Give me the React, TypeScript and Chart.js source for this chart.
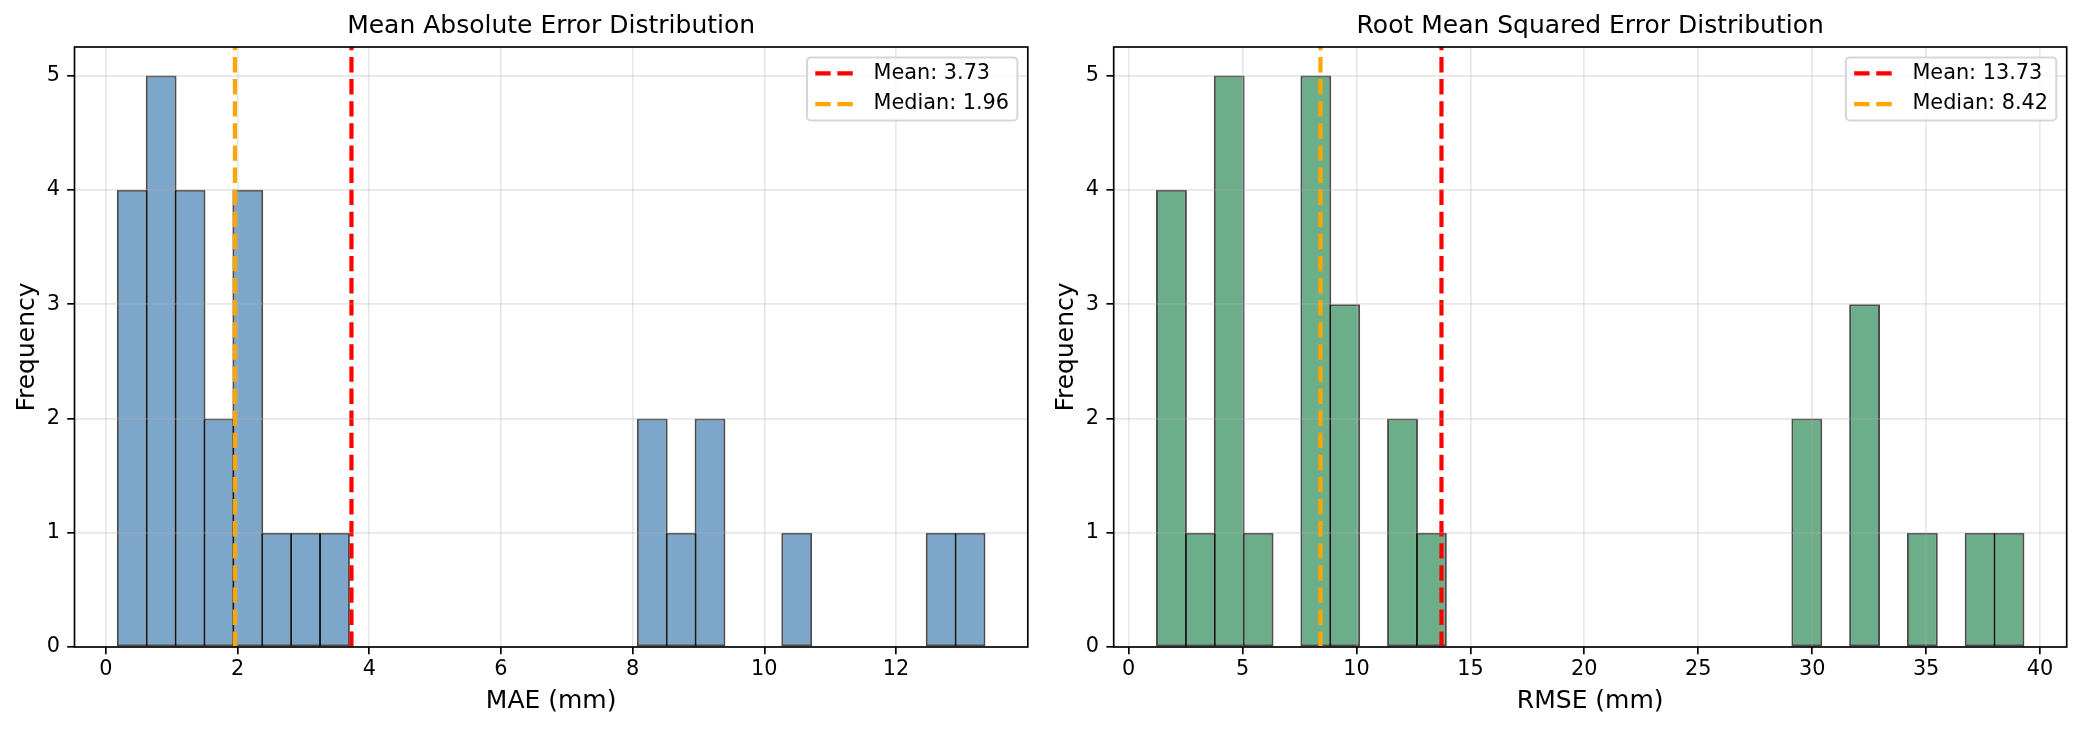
import React, { useEffect, useRef } from "react";
import { Chart, registerables } from "chart.js";

Chart.register(...registerables);
Chart.defaults.font.family = "'DejaVu Sans'";
Chart.defaults.color = "#000";

// ---------- data ----------
const maeBinCenters = [
  0.401, 0.840, 1.279, 1.717, 2.156, 2.595, 3.034, 3.472, 3.911, 4.350,
  4.788, 5.227, 5.666, 6.105, 6.543, 6.982, 7.421, 7.859, 8.298, 8.737,
  9.175, 9.614, 10.053, 10.492, 10.930, 11.369, 11.808, 12.246, 12.685, 13.124,
];
const maeCounts = [
  4, 5, 4, 2, 4, 1, 1, 1, 0, 0,
  0, 0, 0, 0, 0, 0, 0, 0, 2, 1,
  2, 0, 0, 1, 0, 0, 0, 0, 1, 1,
];
const rmseBinCenters = [
  1.880, 3.147, 4.415, 5.682, 6.950, 8.217, 9.485, 10.752, 12.020, 13.287,
  14.555, 15.822, 17.090, 18.357, 19.625, 20.892, 22.160, 23.427, 24.695, 25.962,
  27.230, 28.497, 29.765, 31.032, 32.300, 33.567, 34.835, 36.102, 37.370, 38.637,
];
const rmseCounts = [
  4, 1, 5, 1, 0, 5, 3, 0, 2, 1,
  0, 0, 0, 0, 0, 0, 0, 0, 0, 0,
  0, 0, 2, 0, 3, 0, 1, 0, 1, 1,
];
const maeMean = 3.73;
const maeMedian = 1.96;
const rmseMean = 13.73;
const rmseMedian = 8.42;
const maeXTicks = [0, 2, 4, 6, 8, 10, 12];
const rmseXTicks = [0, 5, 10, 15, 20, 25, 30, 35, 40];
const yTicks = [0, 1, 2, 3, 4, 5];
const maeXRange = [-0.476, 14.001];
const rmseXRange = [-0.655, 41.17];
const yMax = 5.25;

// ---------- styling ----------
const H = 729;
const FS = 20.8;
const LW = 1.67;

type PanelCfg = {
  left: number;
  width: number;
  chartLeft: number;
  chartRight: number;
  yTitlePad: number;
  title: string;
  xLabel: string;
  centers: number[];
  counts: number[];
  mean: number;
  median: number;
  fill: string;
  xTicks: number[];
  xRange: number[];
};

const panels: PanelCfg[] = [
  {
    left: 0,
    width: 1040,
    chartLeft: 74.5,
    chartRight: 1027.8,
    yTitlePad: 12.5,
    title: "Mean Absolute Error Distribution",
    xLabel: "MAE (mm)",
    centers: maeBinCenters,
    counts: maeCounts,
    mean: maeMean,
    median: maeMedian,
    fill: "rgba(70,130,180,0.7)",
    xTicks: maeXTicks,
    xRange: maeXRange,
  },
  {
    left: 1040,
    width: 1041,
    chartLeft: 73.7,
    chartRight: 1026.7,
    yTitlePad: 11.7,
    title: "Root Mean Squared Error Distribution",
    xLabel: "RMSE (mm)",
    centers: rmseBinCenters,
    counts: rmseCounts,
    mean: rmseMean,
    median: rmseMedian,
    fill: "rgba(46,139,87,0.7)",
    xTicks: rmseXTicks,
    xRange: rmseXRange,
  },
];

const frameLegendPlugin = {
  id: "frameLegend",
  afterDraw(chart: any, _args: any, opts: any) {
    const { ctx, chartArea: a } = chart;
    ctx.save();
    // spines
    ctx.strokeStyle = "#000";
    ctx.lineWidth = LW;
    ctx.setLineDash([]);
    ctx.strokeRect(a.left, a.top, a.right - a.left, a.bottom - a.top);
    // legend
    const items: { label: string; color: string }[] = opts.items || [];
    ctx.font = `${FS}px 'DejaVu Sans'`;
    const textW = Math.max(...items.map((i) => ctx.measureText(i.label).width));
    const boxW = 0.4 * FS + 2 * FS + 0.8 * FS + textW + 0.4 * FS;
    const boxH = 63;
    const bx = a.right - 0.5 * FS - boxW;
    const by = a.top + 0.5 * FS;
    const r = 4;
    ctx.beginPath();
    ctx.moveTo(bx + r, by);
    ctx.lineTo(bx + boxW - r, by);
    ctx.arcTo(bx + boxW, by, bx + boxW, by + r, r);
    ctx.lineTo(bx + boxW, by + boxH - r);
    ctx.arcTo(bx + boxW, by + boxH, bx + boxW - r, by + boxH, r);
    ctx.lineTo(bx + r, by + boxH);
    ctx.arcTo(bx, by + boxH, bx, by + boxH - r, r);
    ctx.lineTo(bx, by + r);
    ctx.arcTo(bx, by, bx + r, by, r);
    ctx.closePath();
    ctx.fillStyle = "rgba(255,255,255,0.8)";
    ctx.fill();
    ctx.strokeStyle = "rgba(204,204,204,0.8)";
    ctx.lineWidth = 2;
    ctx.stroke();
    items.forEach((it, i) => {
      const y = by + 16 + i * 30.7;
      ctx.beginPath();
      ctx.setLineDash([15.4, 6.7]);
      ctx.lineCap = "butt";
      ctx.strokeStyle = it.color;
      ctx.lineWidth = 4.2;
      ctx.moveTo(bx + 0.4 * FS, y);
      ctx.lineTo(bx + 2.4 * FS, y);
      ctx.stroke();
      ctx.setLineDash([]);
      ctx.fillStyle = "#000";
      ctx.textBaseline = "middle";
      ctx.textAlign = "left";
      ctx.fillText(it.label, bx + 3.2 * FS, y);
    });
    ctx.restore();
  },
};

function Panel({ cfg }: { cfg: PanelCfg }) {
  const ref = useRef<HTMLCanvasElement | null>(null);
  useEffect(() => {
    if (!ref.current) return;
    const chart = new Chart(ref.current, {
      type: "bar",
      data: {
        datasets: [
          {
            type: "line",
            label: "Median",
            data: [
              { x: cfg.median, y: 0 },
              { x: cfg.median, y: yMax },
            ],
            borderColor: "#FFA500",
            borderWidth: 4.2,
            borderDash: [15.4, 6.7],
            borderCapStyle: "butt",
            pointRadius: 0,
            fill: false,
            order: 1,
          } as any,
          {
            type: "line",
            label: "Mean",
            data: [
              { x: cfg.mean, y: 0 },
              { x: cfg.mean, y: yMax },
            ],
            borderColor: "#FF0000",
            borderWidth: 4.2,
            borderDash: [15.4, 6.7],
            borderCapStyle: "butt",
            pointRadius: 0,
            fill: false,
            order: 2,
          } as any,
          {
            type: "bar",
            label: "hist",
            data: cfg.centers.map((x, i) => ({ x, y: cfg.counts[i] })),
            backgroundColor: cfg.fill,
            borderColor: "rgba(0,0,0,0.7)",
            borderWidth: 2,
            borderSkipped: false,
            inflateAmount: 0,
            barPercentage: 1.069,
            categoryPercentage: 1,
            order: 3,
          } as any,
        ],
      },
      options: {
        animation: false,
        responsive: false,
        layout: { padding: { left: 0, right: cfg.width - cfg.chartRight, top: 0, bottom: 0 } },
        plugins: {
          legend: { display: false },
          tooltip: { enabled: false },
          title: {
            display: true,
            text: cfg.title,
            fullSize: false,
            color: "#000",
            font: { size: 25, weight: "normal", lineHeight: 1.2 },
            padding: { top: 11.2, bottom: 5.8 },
          },
          frameLegend: {
            items: [
              { label: `Mean: ${cfg.mean.toFixed(2)}`, color: "#FF0000" },
              { label: `Median: ${cfg.median.toFixed(2)}`, color: "#FFA500" },
            ],
          },
        } as any,
        scales: {
          x: {
            type: "linear",
            min: cfg.xRange[0],
            max: cfg.xRange[1],
            offset: false,
            afterBuildTicks: (s: any) => {
              s.ticks = cfg.xTicks.map((v) => ({ value: v }));
            },
            afterFit: (s: any) => {
              s.height = H - 647;
            },
            grid: {
              display: true,
              offset: false,
              color: "rgba(176,176,176,0.3)",
              lineWidth: LW,
              drawTicks: true,
              tickLength: 7.3,
              tickColor: "#000",
              tickWidth: LW,
              z: 1,
            },
            border: { display: false },
            ticks: {
              padding: 3.2,
              maxRotation: 0,
              autoSkip: false,
              color: "#000",
              font: { size: FS, lineHeight: 1.2 },
              callback: (v: any) => String(v),
            },
            title: {
              display: true,
              text: cfg.xLabel,
              color: "#000",
              font: { size: 25, lineHeight: 1.2 },
              padding: { top: 0, bottom: 13 },
            },
          },
          y: {
            type: "linear",
            min: 0,
            max: yMax,
            afterBuildTicks: (s: any) => {
              s.ticks = yTicks.map((v) => ({ value: v }));
            },
            afterFit: (s: any) => {
              s.width = cfg.chartLeft;
            },
            grid: {
              display: true,
              color: "rgba(176,176,176,0.3)",
              lineWidth: LW,
              drawTicks: true,
              tickLength: 7.3,
              tickColor: "#000",
              tickWidth: LW,
              z: 1,
            },
            border: { display: false },
            ticks: {
              padding: 7.3,
              autoSkip: false,
              color: "#000",
              font: { size: FS, lineHeight: 1.2 },
              callback: (v: any) => String(v),
            },
            title: {
              display: true,
              text: "Frequency",
              color: "#000",
              font: { size: 25, lineHeight: 1.2 },
              padding: { top: cfg.yTitlePad, bottom: 0 },
            },
          },
        },
      } as any,
      plugins: [frameLegendPlugin as any],
    });
    return () => chart.destroy();
  }, []);
  return (
    <canvas
      ref={ref}
      width={cfg.width}
      height={H}
      style={{ position: "absolute", left: cfg.left, top: 0, width: cfg.width, height: H }}
    />
  );
}

export default function App() {
  return (
    <div
      style={{
        position: "absolute",
        left: 0,
        top: 0,
        width: 2081,
        height: H,
        background: "#fff",
        overflow: "hidden",
      }}
    >
      {panels.map((p, i) => (
        <Panel key={i} cfg={p} />
      ))}
    </div>
  );
}
